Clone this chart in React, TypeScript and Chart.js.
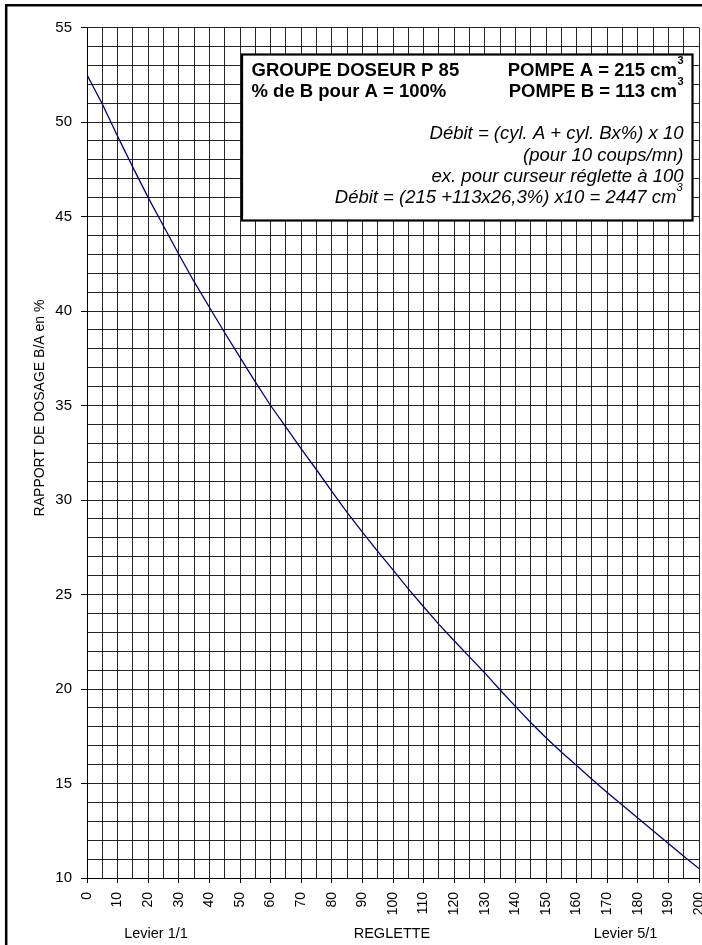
import { useEffect, useRef } from 'react';
import { Chart, registerables } from 'chart.js';

Chart.register(...registerables);

const FONT = '"Liberation Sans", Arial, sans-serif';

const reglette = [
  0, 5, 10, 15, 20, 25, 30, 35, 40, 45, 50, 55, 60, 65, 70, 75, 80, 85, 90, 95, 100,
  105, 110, 115, 120, 125, 130, 135, 140, 145, 150, 155, 160, 165, 170, 175, 180, 185, 190, 195, 200,
];
const rapport = [
  52.5, 50.95, 49.25, 47.6, 46.0, 44.5, 43.0, 41.55, 40.2, 38.85, 37.55, 36.25, 35.0, 33.85, 32.7, 31.6,
  30.45, 29.35, 28.3, 27.28, 26.3, 25.3, 24.35, 23.42, 22.55, 21.7, 20.85, 19.95, 19.08, 18.23, 17.42,
  16.67, 15.95, 15.22, 14.52, 13.85, 13.18, 12.5, 11.82, 11.15, 10.5,
];

const xMin = 0;
const xMax = 200;
const xGridStep = 5;
const xLabelStep = 10;
const yMin = 10;
const yMax = 55;
const yGridStep = 1;
const yLabelStep = 5;

const yTitle = 'RAPPORT DE DOSAGE B/A en %';
const xTitleLeft = 'Levier 1/1';
const xTitleCenter = 'REGLETTE';
const xTitleRight = 'Levier 5/1';

const boxBoldLeft = ['GROUPE DOSEUR P 85', '% de B pour A = 100%'];
const boxBoldRight = ['POMPE A = 215 cm', 'POMPE B = 113 cm'];
const boxItalic = [
  'Débit = (cyl. A + cyl. Bx%) x 10',
  '(pour 10 coups/mn)',
  'ex. pour curseur réglette à 100',
  'Débit = (215 +113x26,3%) x10 = 2447 cm',
];
const superscript = '3';

const annotationPlugin = {
  id: 'annotations',
  afterDraw(chart: any) {
    const ctx = chart.ctx as CanvasRenderingContext2D;
    ctx.save();

    // outer frame (top & left visible)
    ctx.strokeStyle = '#000';
    ctx.lineWidth = 2.5;
    ctx.beginPath();
    ctx.moveTo(6.2, 945);
    ctx.lineTo(6.2, 5.3);
    ctx.lineTo(702, 5.3);
    ctx.stroke();

    // info box
    const bx = 242, by = 54.5, bw = 450.5, bh = 166;
    ctx.fillStyle = '#fff';
    ctx.fillRect(bx, by, bw, bh);
    ctx.lineWidth = 2.2;
    ctx.strokeStyle = '#000';
    ctx.strokeRect(bx, by, bw, bh);

    ctx.fillStyle = '#000';
    ctx.textBaseline = 'alphabetic';
    const bold = `bold 18.5px ${FONT}`;
    const supBold = `bold 11px ${FONT}`;
    const italic = `italic 18.5px ${FONT}`;
    const supItalic = `italic 11px ${FONT}`;
    const boldBase = [75.5, 96.7];
    const rightEdge = 683.5;

    boxBoldLeft.forEach((t, i) => {
      ctx.font = bold;
      ctx.textAlign = 'left';
      ctx.fillText(t, 251.5, boldBase[i]);
    });
    boxBoldRight.forEach((t, i) => {
      ctx.font = supBold;
      const sw = ctx.measureText(superscript).width;
      ctx.textAlign = 'right';
      ctx.fillText(superscript, rightEdge, boldBase[i] - 12);
      ctx.font = bold;
      ctx.fillText(t, rightEdge - sw - 0.5, boldBase[i]);
    });

    const itBase = [139.3, 160.7, 181.7, 203.3];
    boxItalic.forEach((t, i) => {
      ctx.textAlign = 'right';
      if (i === boxItalic.length - 1) {
        ctx.font = supItalic;
        const sw = ctx.measureText(superscript).width;
        ctx.fillText(superscript, rightEdge - 1, itBase[i] - 12);
        ctx.font = italic;
        ctx.fillText(t, rightEdge - sw - 1, itBase[i]);
      } else {
        ctx.font = italic;
        ctx.fillText(t, rightEdge, itBase[i]);
      }
    });

    // x axis title pieces
    ctx.font = `14.5px ${FONT}`;
    ctx.textAlign = 'center';
    ctx.textBaseline = 'middle';
    ctx.fillText(xTitleLeft, 156, 934);
    ctx.fillText(xTitleCenter, 392, 934);
    ctx.fillText(xTitleRight, 625.5, 934);

    // y axis title
    ctx.translate(40, 408);
    ctx.rotate(-Math.PI / 2);
    ctx.font = `14px ${FONT}`;
    ctx.fillText(yTitle, 0, 0);

    ctx.restore();
  },
};

export default function App() {
  const canvasRef = useRef<HTMLCanvasElement | null>(null);

  useEffect(() => {
    if (!canvasRef.current) return;
    const chart = new Chart(canvasRef.current, {
      type: 'line',
      data: {
        datasets: [
          {
            data: reglette.map((x, i) => ({ x, y: rapport[i] })),
            borderColor: '#000080',
            borderWidth: 1.3,
            pointRadius: 0,
            tension: 0,
            fill: false,
          },
        ],
      },
      options: {
        animation: false,
        responsive: false,
        devicePixelRatio: 1,
        layout: { padding: { top: 27.5, right: 3, bottom: 0, left: 0 } },
        plugins: {
          legend: { display: false },
          tooltip: { enabled: false },
          title: { display: false },
        },
        scales: {
          x: {
            type: 'linear',
            position: 'bottom',
            min: xMin,
            max: xMax,
            afterFit(scale: any) {
              scale.height = 67;
              scale.paddingLeft = 0;
              scale.paddingRight = 0;
            },
            border: { display: true, color: '#000', width: 1 },
            grid: {
              color: 'rgba(0,0,0,0.85)',
              lineWidth: 1,
              drawTicks: true,
              tickLength: 5,
              tickColor: (c: any) =>
                c.tick && c.tick.value % xLabelStep === 0 ? '#000' : 'rgba(0,0,0,0)',
            },
            ticks: {
              stepSize: xGridStep,
              autoSkip: false,
              minRotation: 90,
              maxRotation: 90,
              padding: 9,
              color: '#000',
              font: { family: FONT, size: 14 },
              callback: (v: any) => (Number(v) % xLabelStep === 0 ? String(v) : ''),
            },
          },
          y: {
            type: 'linear',
            position: 'left',
            min: yMin,
            max: yMax,
            afterFit(scale: any) {
              scale.width = 87;
            },
            border: { display: true, color: '#000', width: 1 },
            grid: {
              color: 'rgba(0,0,0,0.85)',
              lineWidth: 1,
              drawTicks: true,
              tickLength: 6,
              tickColor: (c: any) =>
                c.tick && c.tick.value % yLabelStep === 0 ? '#000' : 'rgba(0,0,0,0)',
            },
            ticks: {
              stepSize: yGridStep,
              autoSkip: false,
              padding: 9,
              color: '#000',
              font: { family: FONT, size: 15 },
              callback: (v: any) => (Number(v) % yLabelStep === 0 ? String(v) : ''),
            },
          },
        },
      },
      plugins: [annotationPlugin],
    });
    return () => chart.destroy();
  }, []);

  return (
    <div style={{ position: 'absolute', left: 0, top: 0, width: 702, height: 945, background: '#fff' }}>
      <canvas ref={canvasRef} width={702} height={945} style={{ width: 702, height: 945 }} />
    </div>
  );
}
